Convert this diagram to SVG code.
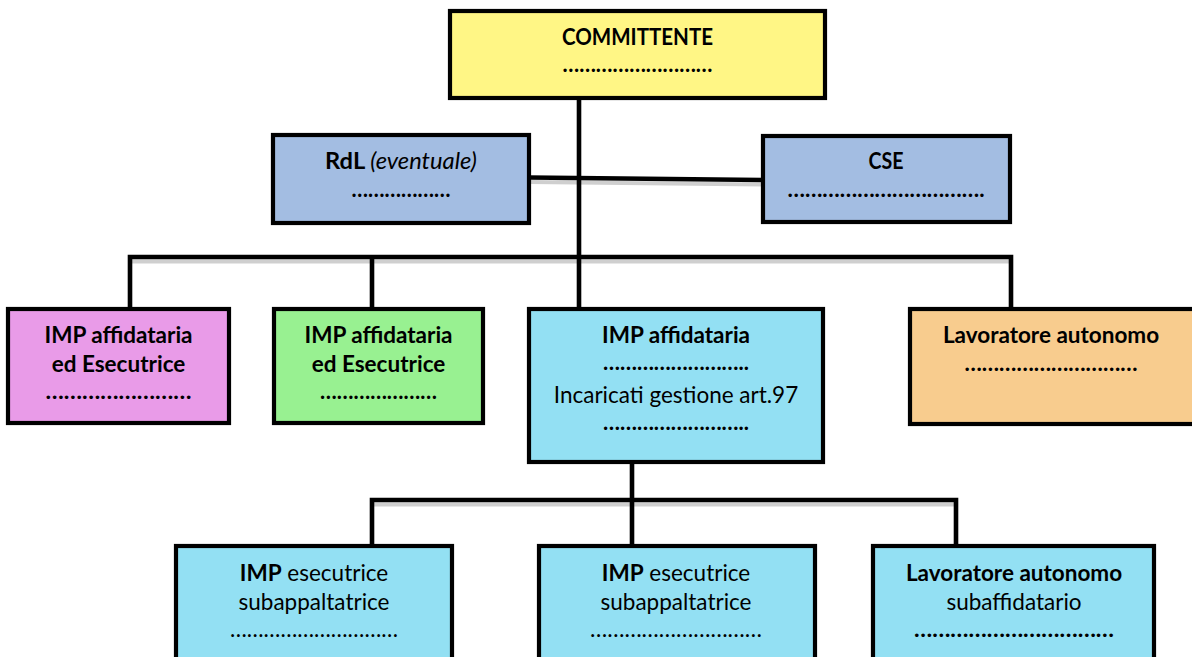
<svg xmlns="http://www.w3.org/2000/svg" width="1192" height="657" viewBox="0 0 1192 657">
<style>
.box{stroke:#000;stroke-width:4.2}
.t{font-family:Lato,"Open Sans","Liberation Sans",sans-serif;font-size:22.5px;fill:#000;text-anchor:middle}
.b{font-weight:bold}
.i{font-style:italic;font-weight:normal}
.n{font-weight:normal}
.ln{fill:none;stroke:#000;stroke-width:4.6;stroke-linejoin:miter}
.sh{fill:none;stroke:#cfcfcf;stroke-width:4}
</style>
<rect width="1192" height="657" fill="#fff"/>
<g id="connectors">
<line class="sh" x1="529" y1="182" x2="763" y2="184.5"/>
<line class="sh" x1="130" y1="261.5" x2="1011" y2="261.5"/>
<line class="sh" x1="372" y1="504.5" x2="956" y2="504.5"/>
<line class="ln" x1="579" y1="98" x2="579" y2="309"/>
<line class="ln" x1="529" y1="177.5" x2="763" y2="180"/>
<path class="ln" d="M130,309 V257 H1011 V309"/>
<line class="ln" x1="372" y1="257" x2="372" y2="309"/>
<line class="ln" x1="632" y1="462" x2="632" y2="546"/>
<path class="ln" d="M372,546 V500 H956 V546"/>
</g>
<g id="committente">
<rect class="box" x="450" y="11" width="375" height="87" fill="#fff685"/>
<text class="t b" x="637.5" y="45" textLength="151" lengthAdjust="spacingAndGlyphs">COMMITTENTE</text>
<text class="t b" x="637.5" y="72" textLength="150" lengthAdjust="spacingAndGlyphs">………………………</text>
</g>
<g id="rdl">
<rect class="box" x="273" y="135" width="256" height="88" fill="#a3bde2"/>
<text class="t b" x="401" y="169" textLength="152" lengthAdjust="spacingAndGlyphs">RdL <tspan class="i">(eventuale)</tspan></text>
<text class="t b" x="401" y="197" textLength="99" lengthAdjust="spacingAndGlyphs">………………</text>
</g>
<g id="cse">
<rect class="box" x="763" y="136" width="247" height="86" fill="#a3bde2"/>
<text class="t b" x="886" y="169" textLength="35" lengthAdjust="spacingAndGlyphs">CSE</text>
<text class="t b" x="886" y="197" textLength="197" lengthAdjust="spacingAndGlyphs">…………………………….</text>
</g>
<g id="imp-affidataria-1">
<rect class="box" x="8" y="309" width="221" height="114" fill="#e99be8"/>
<text class="t b" x="118.5" y="343">IMP affidataria</text>
<text class="t b" x="118.5" y="372">ed Esecutrice</text>
<text class="t b" x="118.5" y="399" textLength="146" lengthAdjust="spacingAndGlyphs">……………………</text>
</g>
<g id="imp-affidataria-2">
<rect class="box" x="274" y="309" width="209" height="114" fill="#98f191"/>
<text class="t b" x="378.5" y="343">IMP affidataria</text>
<text class="t b" x="378.5" y="372">ed Esecutrice</text>
<text class="t b" x="378.5" y="399" textLength="117" lengthAdjust="spacingAndGlyphs">…………………</text>
</g>
<g id="imp-affidataria">
<rect class="box" x="529" y="309" width="294" height="153" fill="#93e0f3"/>
<text class="t b" x="676" y="343">IMP affidataria</text>
<text class="t b" x="676" y="370" textLength="146" lengthAdjust="spacingAndGlyphs">……………………..</text>
<text class="t" x="676" y="403">Incaricati gestione art.97</text>
<text class="t b" x="676" y="430" textLength="146" lengthAdjust="spacingAndGlyphs">……………………..</text>
</g>
<g id="lavoratore-autonomo">
<rect class="box" x="910" y="309" width="290" height="115" fill="#f8cc8e"/>
<text class="t b" x="1051" y="343">Lavoratore autonomo</text>
<text class="t b" x="1051" y="371" textLength="173" lengthAdjust="spacingAndGlyphs">…………………………</text>
</g>
<g id="imp-esecutrice-1">
<rect class="box" x="176" y="546" width="276" height="140" fill="#93e0f3"/>
<text class="t" x="314" y="581"><tspan class="b">IMP</tspan> esecutrice</text>
<text class="t" x="314" y="610">subappaltatrice</text>
<text class="t" x="314" y="637" textLength="168" lengthAdjust="spacingAndGlyphs">…………………………</text>
</g>
<g id="imp-esecutrice-2">
<rect class="box" x="539" y="546" width="276" height="140" fill="#93e0f3"/>
<text class="t" x="676" y="581"><tspan class="b">IMP</tspan> esecutrice</text>
<text class="t" x="676" y="610">subappaltatrice</text>
<text class="t" x="676" y="637" textLength="172" lengthAdjust="spacingAndGlyphs">…………………………</text>
</g>
<g id="lavoratore-autonomo-sub">
<rect class="box" x="873" y="546" width="281" height="140" fill="#93e0f3"/>
<text class="t b" x="1014" y="581">Lavoratore autonomo</text>
<text class="t" x="1014" y="610">subaffidatario</text>
<text class="t b" x="1014" y="637" textLength="200" lengthAdjust="spacingAndGlyphs">……………………………</text>
</g>
</svg>
